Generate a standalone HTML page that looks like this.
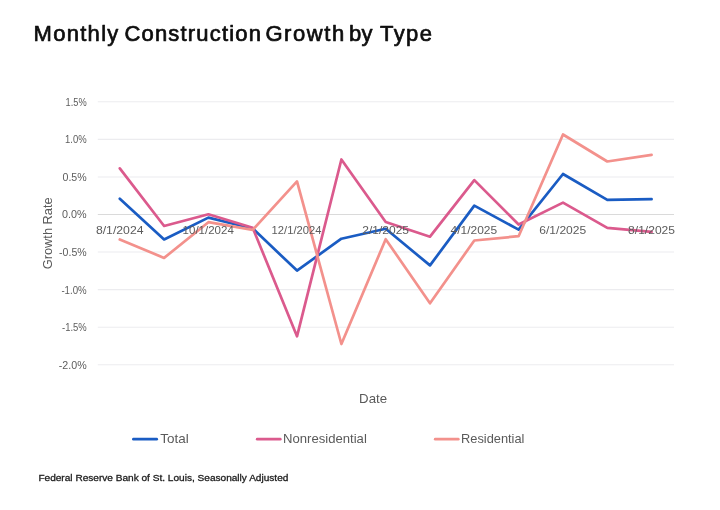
<!DOCTYPE html>
<html><head><meta charset="utf-8"><title>Monthly Construction Growth by Type</title>
<style>
html,body{margin:0;padding:0;background:#fff;}
body{width:720px;height:510px;overflow:hidden;font-family:"Liberation Sans",sans-serif;}
svg{display:block;}
text{font-family:"Liberation Sans",sans-serif;}
.ax{font-size:11px;fill:#5c5c5c;}
.lg{font-size:12.4px;fill:#5a5a5a;}
.ln{fill:none;stroke-width:2.7;stroke-linejoin:round;stroke-linecap:round;}
</style></head><body>
<svg width="720" height="510" viewBox="0 0 720 510">
<rect width="720" height="510" fill="#ffffff"/>
<text id="title" y="41.0" font-size="22" stroke="#0e0e0e" stroke-width="0.7" stroke-linejoin="round" fill="#0e0e0e"><tspan x="33.6" letter-spacing="1.28">Monthly</tspan> <tspan x="124.5" letter-spacing="1.17">Construction</tspan> <tspan x="265.4" letter-spacing="1.58">Growth</tspan> <tspan x="349.1" letter-spacing="0.1">by</tspan> <tspan x="380.1" letter-spacing="1.4">Type</tspan></text>

<line x1="97.8" x2="674" y1="101.79" y2="101.79" stroke="#ececef" stroke-width="1.1"/>
<line x1="97.8" x2="674" y1="139.36" y2="139.36" stroke="#ececef" stroke-width="1.1"/>
<line x1="97.8" x2="674" y1="176.93" y2="176.93" stroke="#ececef" stroke-width="1.1"/>
<line x1="97.8" x2="674" y1="214.50" y2="214.50" stroke="#dadada" stroke-width="1.1"/>
<line x1="97.8" x2="674" y1="252.07" y2="252.07" stroke="#ececef" stroke-width="1.1"/>
<line x1="97.8" x2="674" y1="289.64" y2="289.64" stroke="#ececef" stroke-width="1.1"/>
<line x1="97.8" x2="674" y1="327.21" y2="327.21" stroke="#ececef" stroke-width="1.1"/>
<line x1="97.8" x2="674" y1="364.78" y2="364.78" stroke="#ececef" stroke-width="1.1"/>
<text class="ax" id="yl0" x="65.6" y="105.7" textLength="21.1" lengthAdjust="spacingAndGlyphs">1.5%</text>
<text class="ax" id="yl1" x="65.1" y="143.3" textLength="21.6" lengthAdjust="spacingAndGlyphs">1.0%</text>
<text class="ax" id="yl2" x="62.5" y="180.8" textLength="24.2" lengthAdjust="spacingAndGlyphs">0.5%</text>
<text class="ax" id="yl3" x="62.1" y="218.4" textLength="24.6" lengthAdjust="spacingAndGlyphs">0.0%</text>
<text class="ax" id="yl4" x="59.1" y="256.0" textLength="27.6" lengthAdjust="spacingAndGlyphs">-0.5%</text>
<text class="ax" id="yl5" x="61.4" y="293.5" textLength="25.3" lengthAdjust="spacingAndGlyphs">-1.0%</text>
<text class="ax" id="yl6" x="62.0" y="331.1" textLength="24.7" lengthAdjust="spacingAndGlyphs">-1.5%</text>
<text class="ax" id="yl7" x="58.8" y="368.7" textLength="27.9" lengthAdjust="spacingAndGlyphs">-2.0%</text>
<polyline class="ln" stroke="#1a5cc3" points="119.8,198.7 164.1,239.5 208.4,217.6 252.7,228.5 297.0,270.6 341.4,238.7 385.7,228.8 430.0,265.4 474.3,205.6 518.6,229.6 563.0,174.0 607.3,199.8 651.6,199.2"/>
<polyline class="ln" stroke="#db5a8d" points="119.8,168.4 164.1,226.0 208.4,214.3 252.7,227.8 297.0,336.3 341.4,159.5 385.7,222.0 430.0,236.7 474.3,180.1 518.6,224.5 563.0,202.6 607.3,227.9 651.6,231.9"/>
<polyline class="ln" stroke="#f3918c" points="119.8,239.5 164.1,257.9 208.4,222.2 252.7,229.8 297.0,181.4 341.4,344.0 385.7,239.2 430.0,303.3 474.3,240.5 518.6,236.2 563.0,134.5 607.3,161.5 651.6,154.9"/>
<text class="ax" id="xl0" x="95.9" y="233.6" textLength="47.6" lengthAdjust="spacingAndGlyphs">8/1/2024</text>
<text class="ax" id="xl1" x="182.6" y="233.6" textLength="51.2" lengthAdjust="spacingAndGlyphs">10/1/2024</text>
<text class="ax" id="xl2" x="271.6" y="233.6" textLength="49.9" lengthAdjust="spacingAndGlyphs">12/1/2024</text>
<text class="ax" id="xl3" x="362.3" y="233.6" textLength="46.7" lengthAdjust="spacingAndGlyphs">2/1/2025</text>
<text class="ax" id="xl4" x="450.6" y="233.6" textLength="46.6" lengthAdjust="spacingAndGlyphs">4/1/2025</text>
<text class="ax" id="xl5" x="539.3" y="233.6" textLength="46.9" lengthAdjust="spacingAndGlyphs">6/1/2025</text>
<text class="ax" id="xl6" x="628.1" y="233.6" textLength="46.9" lengthAdjust="spacingAndGlyphs">8/1/2025</text>
<text class="lg" id="gr" transform="translate(52,269.3) rotate(-90)" textLength="72" lengthAdjust="spacingAndGlyphs">Growth Rate</text>
<text class="lg" id="date" x="359.1" y="403.0" textLength="28" lengthAdjust="spacingAndGlyphs">Date</text>
<line class="ln" stroke="#1a5cc3" x1="133.4" x2="156.7" y1="439.2" y2="439.2"/>
<text class="lg" id="l1" x="160.3" y="443.3" textLength="28.4" lengthAdjust="spacingAndGlyphs">Total</text>
<line class="ln" stroke="#db5a8d" x1="257.2" x2="280.3" y1="439.2" y2="439.2"/>
<text class="lg" id="l2" x="283.0" y="443.3" textLength="83.8" lengthAdjust="spacingAndGlyphs">Nonresidential</text>
<line class="ln" stroke="#f3918c" x1="435.2" x2="458.3" y1="439.2" y2="439.2"/>
<text class="lg" id="l3" x="461.0" y="443.3" textLength="63.4" lengthAdjust="spacingAndGlyphs">Residential</text>
<text id="foot" x="38.4" y="480.8" font-size="9.5" fill="#1c1c1c" stroke="#1c1c1c" stroke-width="0.3" textLength="250.0" lengthAdjust="spacingAndGlyphs">Federal Reserve Bank of St. Louis, Seasonally Adjusted</text>
</svg></body></html>
